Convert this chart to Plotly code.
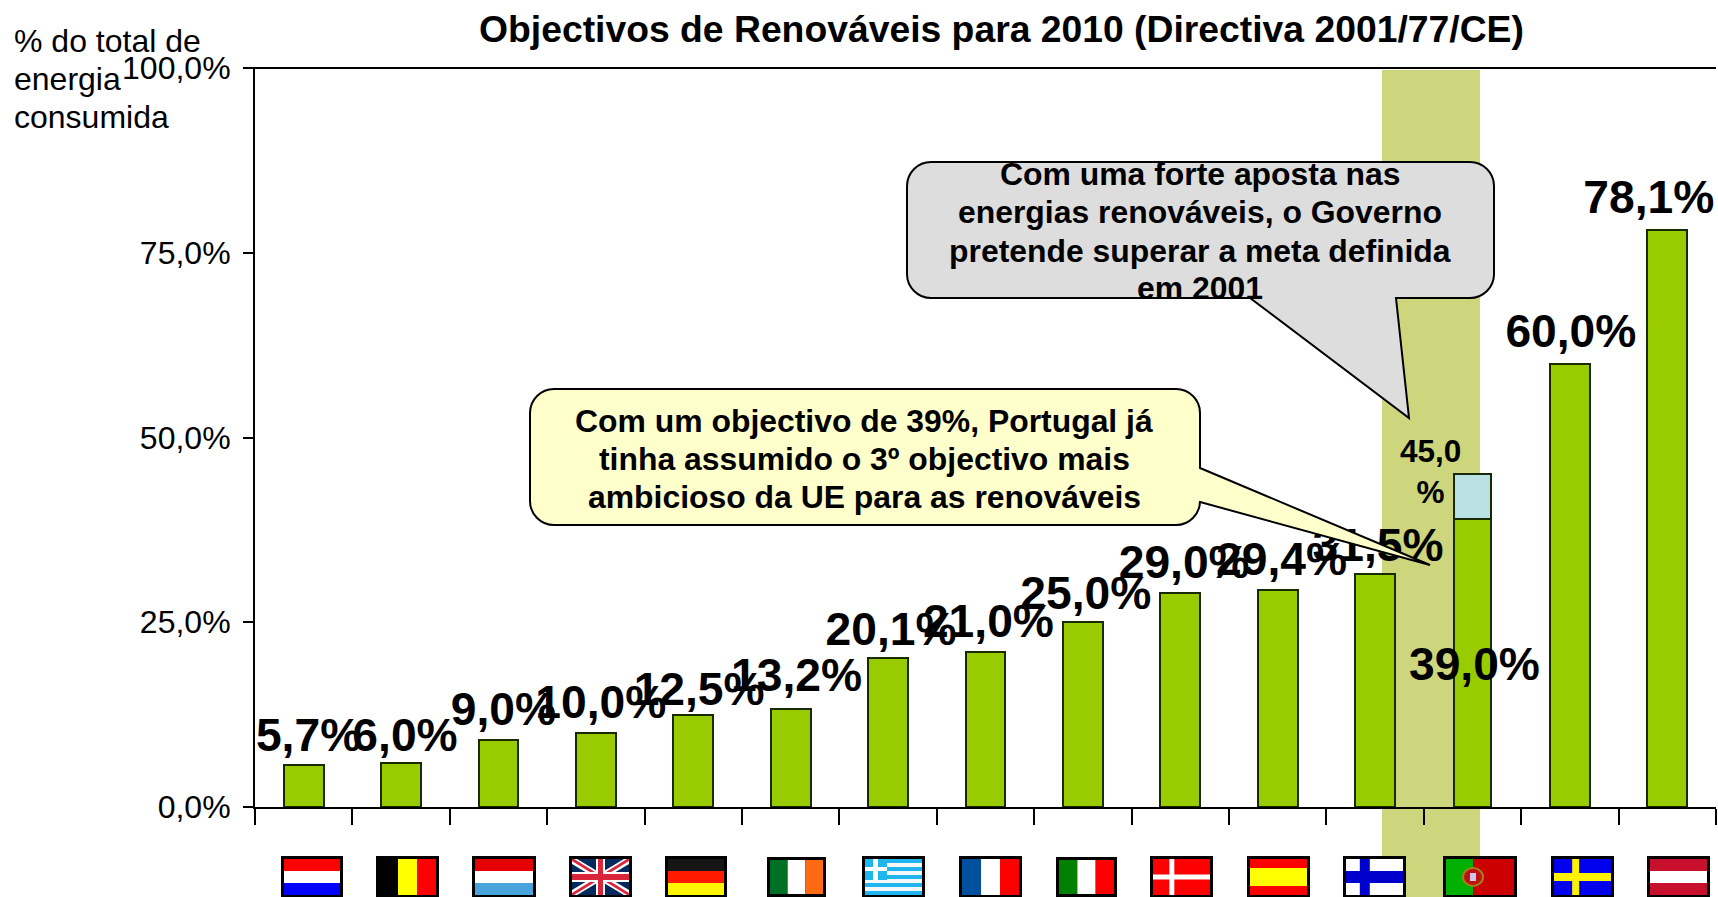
import plotly.graph_objects as go

W, H = 1718, 897

countries = ["Holanda", "Bélgica", "Luxemburgo", "Reino Unido", "Alemanha", "Irlanda", "Grécia", "França",
             "Itália", "Dinamarca", "Espanha", "Finlândia", "Portugal", "Suécia", "Áustria"]
target_2001 = [5.7, 6.0, 9.0, 10.0, 12.5, 13.2, 20.1, 21.0, 25.0, 29.0, 29.4, 31.5, 39.0, 60.0, 78.1]
extra_target = [0, 0, 0, 0, 0, 0, 0, 0, 0, 0, 0, 0, 6.0, 0, 0]
labels = ["5,7%", "6,0%", "9,0%", "10,0%", "12,5%", "13,2%", "20,1%", "21,0%", "25,0%", "29,0%",
          "29,4%", "31,5%", "39,0%", "60,0%", "78,1%"]
label_dx = [.05, .04, .05, .05, .06, .06, .03, .03, .03, .04, .04, .03, .02, .01, -.19]
label_y = [9.1, 9.1, 12.6, 13.6, 15.4, 17.3, 23.5, 24.5, 28.3, 32.5, 32.9, 34.8, 18.7, 63.8, 82.0]
y_ticks = [0, 25, 50, 75, 100]
y_tick_text = ["0,0%", "25,0%", "50,0%", "75,0%", "100,0%"]
title = "Objectivos de Renováveis para 2010 (Directiva 2001/77/CE)"
axis_note = ["% do total de", "energia", "consumida"]
grey_note = ["Com uma forte aposta nas", "energias renováveis, o Governo",
             "pretende superar a meta definida", "em 2001"]
yellow_note = ["Com um objectivo de 39%, Portugal já", "tinha assumido o 3º objectivo mais",
               "ambicioso da UE para as renováveis"]

FONT = "Liberation Sans"
GREEN, BLUE = "#99CC00", "#B9E0E3"
n = len(countries)
xs = list(range(n))


def PX(x):
    return x / W


def PY(y):
    return 1 - y / H


shapes = []


def rect(x0, y0, x1, y1, fill):
    shapes.append(dict(type="rect", xref="paper", yref="paper", x0=PX(x0), x1=PX(x1), y0=PY(y0), y1=PY(y1),
                       fillcolor=fill, line=dict(width=0), layer="above"))


def poly(points, fill, line=0, color="black"):
    d = "M" + " L".join(f"{PX(a):.5f},{PY(b):.5f}" for a, b in points) + " Z"
    shapes.append(dict(type="path", xref="paper", yref="paper", path=d, fillcolor=fill,
                       line=dict(width=line, color=color), layer="above"))


def bordered(x0, y0, x1, y1):
    rect(x0 - 3, y0 - 3, x1 + 3, y1 + 3, "black")


# highlight band behind the Portuguese column
shapes.append(dict(type="rect", xref="paper", yref="paper", x0=PX(1382), x1=PX(1480), y0=PY(70), y1=PY(H),
                   fillcolor="#CDD67C", line=dict(width=0), layer="below"))
# top frame line of the plot
shapes.append(dict(type="line", xref="paper", yref="paper", x0=PX(245), x1=PX(1716), y0=PY(68), y1=PY(68),
                   line=dict(color="black", width=2), layer="above"))


def hstripes(x0, x1, y0, y1, cols, weights=None):
    weights = weights or [1] * len(cols)
    t, y = sum(weights), y0
    for c, w in zip(cols, weights):
        h = (y1 - y0) * w / t
        rect(x0, y, x1, y + h, c)
        y += h


def vstripes(x0, x1, y0, y1, cols, weights=None):
    weights = weights or [1] * len(cols)
    t, x = sum(weights), x0
    for c, w in zip(cols, weights):
        b = (x1 - x0) * w / t
        rect(x, y0, x + b, y1, c)
        x += b


def nordic(x0, x1, y0, y1, bg, cross, cx_frac=0.36, hw=7, hh=6):
    rect(x0, y0, x1, y1, bg)
    cx = x0 + (x1 - x0) * cx_frac
    cy = (y0 + y1) / 2
    rect(cx - hw, y0, cx + hw, y1, cross)
    rect(x0, cy - hh, x1, cy + hh, cross)


T, B = 859, 895
# Netherlands
bordered(284, T, 340, B); hstripes(284, 340, T, B, ["#FF0000", "#FFFFFF", "#0000FF"])
# Belgium
bordered(379, T, 436, B); vstripes(379, 436, T, B, ["#000000", "#FFFF00", "#FF0000"])
# Luxembourg
bordered(475, T, 533, B); hstripes(475, 533, T, B, ["#E60000", "#FFFFFF", "#4BA3DC"])
# United Kingdom
bordered(572, T, 629, B)
x0, x1, y0, y1 = 572, 629, T, B
rect(x0, y0, x1, y1, "#012A5C")
for (a, b, c, d), col, w in [((x0, y0, x1, y1), "#FFFFFF", 5), ((x0, y1, x1, y0), "#FFFFFF", 5),
                            ((x0, y0, x1, y1), "#D9263A", 2), ((x0, y1, x1, y0), "#D9263A", 2)]:
    poly([(a + w, b), (a, b), (a, b + (1 if b < d else -1) * w), (c - w, d), (c, d),
          (c, d - (1 if b < d else -1) * w)], col)
rect(x0, 872, x1, 882, "#FFFFFF"); rect(596, y0, 605, y1, "#FFFFFF")
rect(x0, 874, x1, 880, "#D9263A"); rect(598, y0, 603, y1, "#D9263A")
# Germany
bordered(668, T, 724, B); hstripes(668, 724, T, B, ["#151515", "#FF1A00", "#FFF500"])
# Ireland
bordered(770, 860, 823, 894); vstripes(770, 823, 860, 894, ["#007026", "#FFFFFF", "#FF6A13"])
# Greece
bordered(865, T, 922, B)
hstripes(865, 922, T, B, ["#1FB6EE", "#F4F8FA"] * 4 + ["#1FB6EE"])
rect(865, T, 887, 880, "#1FB6EE"); rect(873, T, 878, 880, "#FFFFFF"); rect(865, 867, 887, 871, "#FFFFFF")
# France
bordered(962, T, 1019, B); vstripes(962, 1019, T, B, ["#00509E", "#FFFFFF", "#FF0000"])
# Italy
bordered(1059, 860, 1114, 894); vstripes(1059, 1114, 860, 894, ["#008000", "#FFFFFF", "#FF0000"])
# Denmark
bordered(1153, T, 1210, B); nordic(1153, 1210, T, B, "#FF0000", "#FFFFFF", 0.33, 2.5, 2.5)
# Spain
bordered(1250, T, 1307, B); hstripes(1250, 1307, T, B, ["#FF0000", "#FFFF00", "#FF0000"], [1, 2, 1])
# Finland
bordered(1346, T, 1403, B); nordic(1346, 1403, T, B, "#FFFFFF", "#0000CC", 0.33, 5, 6)
# Portugal
bordered(1446, T, 1514, B); vstripes(1446, 1514, T, B, ["#00B000", "#CC0000"], [2, 3])
shapes.append(dict(type="circle", xref="paper", yref="paper", x0=PX(1463), x1=PX(1483), y0=PY(886), y1=PY(868),
                   fillcolor="#C01010", line=dict(color="#A08020", width=2), layer="above"))
rect(1470, 873, 1476, 881, "#C8C8F0")
# Sweden
bordered(1554, T, 1611, B); nordic(1554, 1611, T, B, "#0000EE", "#FFF200", 0.38, 3.5, 4)
# Austria
bordered(1650, T, 1707, B); hstripes(1650, 1707, T, B, ["#C8102E", "#FFFFFF", "#C8102E"])


def callout(x0, y0, x1, y1, r, tail, fill):
    k = 0.45 * r
    parts = [f"M{PX(x0 + r):.5f},{PY(y0):.5f}"]
    bottom = tail[1] if tail[0] == "bottom" else []
    right = tail[1] if tail[0] == "right" else []
    pts = lambda a, b: f"{PX(a):.5f},{PY(b):.5f}"
    parts.append("L" + pts(x1 - r, y0))
    parts.append(f"C{pts(x1 - k, y0)} {pts(x1, y0 + k)} {pts(x1, y0 + r)}")
    for p in right:
        parts.append("L" + pts(*p))
    parts.append("L" + pts(x1, y1 - r))
    parts.append(f"C{pts(x1, y1 - k)} {pts(x1 - k, y1)} {pts(x1 - r, y1)}")
    for p in bottom:
        parts.append("L" + pts(*p))
    parts.append("L" + pts(x0 + r, y1))
    parts.append(f"C{pts(x0 + k, y1)} {pts(x0, y1 - k)} {pts(x0, y1 - r)}")
    parts.append("L" + pts(x0, y0 + r))
    parts.append(f"C{pts(x0, y0 + k)} {pts(x0 + k, y0)} {pts(x0 + r, y0)} Z")
    shapes.append(dict(type="path", xref="paper", yref="paper", path=" ".join(parts), fillcolor=fill,
                       line=dict(color="black", width=2), layer="above"))


callout(907, 162, 1494, 298, 24, ("bottom", [(1396, 298), (1409, 418), (1250, 298)]), "#DDDDDD")
callout(530, 389, 1200, 525, 24, ("right", [(1200, 468), (1430, 565), (1200, 502)]), "#FFFFCC")

annotations = [dict(text=f"<b>{title}</b>", x=PX(1001), y=PY(29), font=dict(size=37.3))]
for t, yy in zip(axis_note, [41, 79, 117]):
    annotations.append(dict(text=t, x=PX(12), y=PY(yy), xanchor="left", font=dict(size=32)))
for t, yy in zip(grey_note, [174, 212, 251, 288]):
    annotations.append(dict(text=f"<b>{t}</b>", x=PX(1200), y=PY(yy), font=dict(size=31.9)))
for t, yy in zip(yellow_note, [421, 459, 497]):
    annotations.append(dict(text=f"<b>{t}</b>", x=PX(864), y=PY(yy), font=dict(size=31.9)))
for a in annotations:
    a.update(xref="paper", yref="paper", showarrow=False)
    a.setdefault("xanchor", "center")
    a.setdefault("yanchor", "middle")

fig = go.Figure()
fig.add_bar(x=xs, y=target_2001, marker=dict(color=GREEN, line=dict(color="#1A2A00", width=2)),
            width=[0.385 if c == "Portugal" else 0.41 for c in countries])
fig.add_bar(x=xs, y=extra_target, marker=dict(color=BLUE, line=dict(color="#1A2A00", width=2)),
            width=[0.385 if c == "Portugal" else 0 for c in countries])
fig.add_scatter(x=[i + d for i, d in zip(xs, label_dx)], y=label_y, text=labels, mode="text",
                textposition="middle center", textfont=dict(size=46.2, color="black", family=FONT, weight="bold"),
                cliponaxis=False)
fig.add_scatter(x=[11.57], y=[45.0], text=["45,0<br>%"], mode="text", textposition="middle center",
                textfont=dict(size=31.5, color="black", family=FONT, weight="bold"), cliponaxis=False)

fig.update_layout(
    width=W, height=H, margin=dict(l=0, r=0, t=0, b=0, autoexpand=False), paper_bgcolor="white",
    plot_bgcolor="rgba(0,0,0,0)",
    barmode="stack", showlegend=False, font=dict(family=FONT, color="black"),
    shapes=shapes, annotations=annotations,
    xaxis=dict(domain=[PX(255), PX(1716)], range=[-0.5, n - 0.5], tickmode="array",
               tickvals=[i - 0.5 for i in range(n + 1)], showticklabels=False, ticks="outside", ticklen=16,
               tickwidth=1.5, tickcolor="black", showgrid=False, zeroline=False, showline=True, linecolor="black",
               linewidth=2),
    yaxis=dict(domain=[PY(807), PY(68)], range=[0, 100], tickmode="array", tickvals=y_ticks, ticktext=y_tick_text,
               ticks="outside", ticklen=10, tickwidth=1.5, tickcolor="black", showgrid=False, zeroline=False,
               showline=True, linecolor="black", linewidth=2, tickfont=dict(size=32), ticklabelstandoff=6),
)
fig.write_html("out.html", config=dict(displayModeBar=False),
               post_script="document.body.style.margin='0';document.body.style.overflow='hidden';")
